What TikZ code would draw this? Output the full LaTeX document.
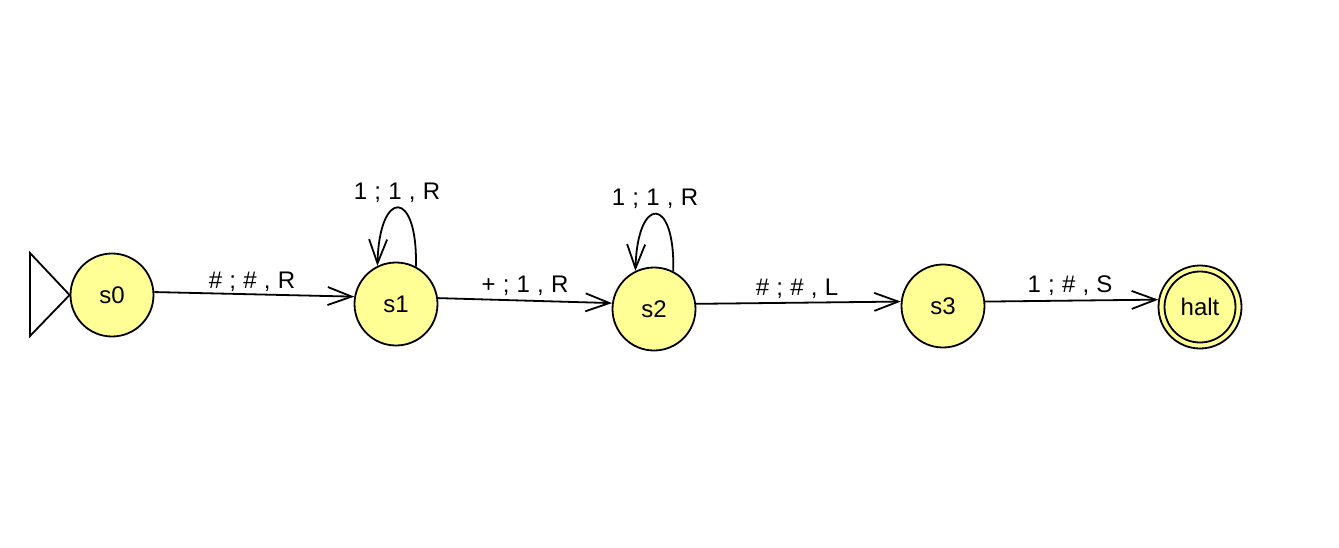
\documentclass[tikz,border=0pt]{standalone}
\usepackage{fontspec}
\setmainfont{Liberation Sans}
\usetikzlibrary{arrows.meta}
\newcommand{\gapsp}{\hspace{0.3em}}
\begin{document}
\begin{tikzpicture}[x=1pt,y=-1pt,
  state/.style={circle,draw=black,line width=1.8pt,fill={rgb,255:red,255;green,255;blue,150},minimum size=83pt,inner sep=0pt,font=\fontsize{24}{27}\selectfont},
  trans/.style={draw=black,line width=1.8pt,-{Straight Barb[length=24pt,width=18pt,line width=1.8pt]}},
  lbl/.style={font=\fontsize{24}{27}\selectfont,inner sep=0pt}]
\useasboundingbox (0,0) rectangle (1339,547);
\fill[white] (0,0) rectangle (1339,547);
\node[state] (s0) at (112,295) {\raisebox{-4pt}{s0}};
\node[state] (s1) at (396,304) {\raisebox{-4pt}{s1}};
\node[state] (s2) at (654,309) {\raisebox{-4pt}{s2}};
\node[state] (s3) at (943,306) {\raisebox{-4pt}{s3}};
\node[state] (halt) at (1200,307) {};
\node[circle,draw=black,line width=1.8pt,minimum size=71pt,inner sep=0pt,font=\fontsize{24}{27}\selectfont] (haltin) at (halt) {\raisebox{-4pt}{halt}};
\coordinate (ta) at (30,253);
\coordinate (tb) at (30,336);
\draw[line width=1.8pt,line join=miter] (ta) -- (s0.west) -- (tb) -- cycle;
\draw[trans] (s0.4) -- (s1.170);
\draw[trans] (s1.8) -- (s2.172);
\draw[trans] (s2.7) -- (s3.174);
\draw[trans] (s3.6) -- (halt.170);
\draw[trans] (s1.62) .. controls +(2,-78) and +(2,-78) .. (s1.116);
\draw[trans] (s2.63) .. controls +(2,-76) and +(2,-76) .. (s2.116);
\node[lbl] (l01) at (252,282) {\#\gapsp;\gapsp\#\gapsp,\gapsp R};
\node[lbl] (l12) at (525,286) {+\gapsp;\gapsp1\gapsp,\gapsp R};
\node[lbl] (l23) at (797,289) {\#\gapsp;\gapsp\#\gapsp,\gapsp L};
\node[lbl] (l3h) at (1070,286) {1\gapsp;\gapsp\#\gapsp,\gapsp S};
\node[lbl] (l11) at (397,193) {1\gapsp;\gapsp1\gapsp,\gapsp R};
\node[lbl] (l22) at (655,199) {1\gapsp;\gapsp1\gapsp,\gapsp R};
\end{tikzpicture}
\end{document}
